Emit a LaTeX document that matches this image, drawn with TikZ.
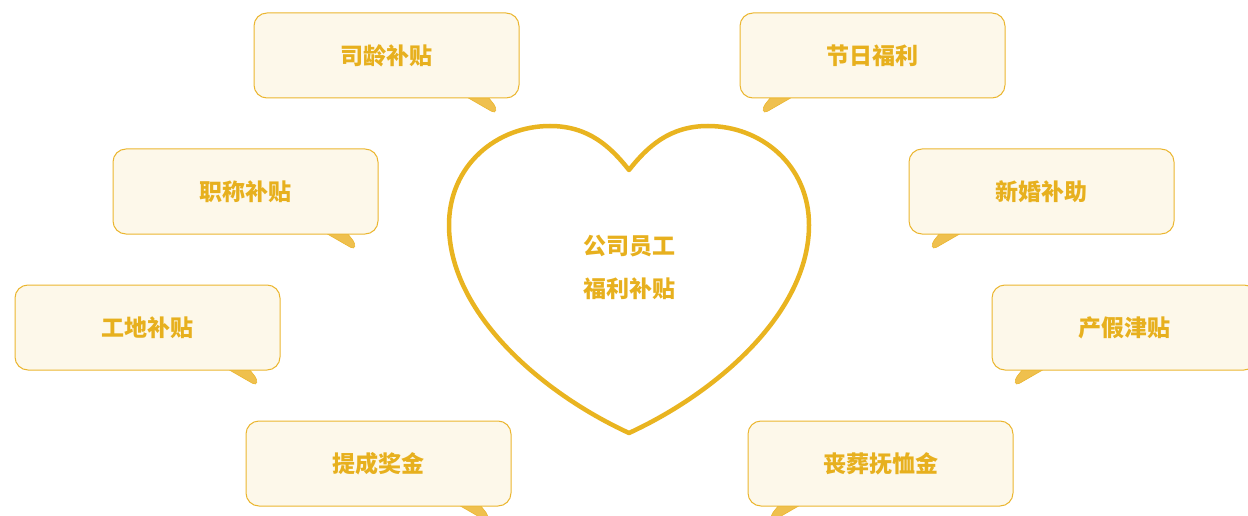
\documentclass[tikz,border=0pt]{standalone}
\usepackage{fontspec}
\newfontfamily\cjk{Noto Sans CJK SC}
\usetikzlibrary{calc,backgrounds}
\definecolor{gold}{HTML}{E9B420}
\definecolor{boxfill}{HTML}{FDF8EA}
\definecolor{boxline}{HTML}{EBB630}
\definecolor{tailfill}{HTML}{EFC04E}
\definecolor{txt}{HTML}{E7B01E}
\tikzset{
  bubble/.style={draw=boxline, line width=1pt, fill=boxfill, rounded corners=13pt,
    minimum width=265pt, minimum height=85pt, inner sep=0pt,
    font=\cjk\bfseries\fontsize{23}{27}\selectfont, text=txt},
  tail/.style={fill=tailfill, draw=boxline, line width=0.6pt},
  heartline/.style={draw=gold, line width=4.5pt, line join=round},
  hearttext/.style={font=\cjk\bfseries\fontsize{23}{27}\selectfont, text=txt, align=center}
}
\newcommand{\rtail}[1]{%
  \begin{pgfonlayer}{background}
  \path[tail] ($(#1.south east)+(-52,-1)$) -- ($(#1.south east)+(-28,12.8)$)
    .. controls ($(#1.south east)+(-23,15.5)$) and ($(#1.south east)+(-22.5,10)$) .. ($(#1.south east)+(-25.5,6)$)
    -- ($(#1.south east)+(-31,-1)$) -- cycle;
  \end{pgfonlayer}}
\newcommand{\ltail}[1]{%
  \begin{pgfonlayer}{background}
  \path[tail] ($(#1.south west)+(52,-1)$) -- ($(#1.south west)+(28,12.8)$)
    .. controls ($(#1.south west)+(23,15.5)$) and ($(#1.south west)+(22.5,10)$) .. ($(#1.south west)+(25.5,6)$)
    -- ($(#1.south west)+(31,-1)$) -- cycle;
  \end{pgfonlayer}}
\begin{document}
\begin{tikzpicture}[x=1pt,y=-1pt]
\useasboundingbox (0,0) rectangle (1248,516);
% heart
\path[heartline] (629,170) .. controls (610,146) and (588,126) .. (550,126)
  .. controls (497,126) and (449,165) .. (449,225)
  .. controls (449,312) and (540,392) .. (629,433)
  .. controls (718,392) and (809,312) .. (809,225)
  .. controls (809,165) and (761,126) .. (708,126)
  .. controls (670,126) and (648,146) .. (629,170) -- cycle;
\node[hearttext] (h1) at (629,246) {公司员工};
\node[hearttext] (h2) at (629,289) {福利补贴};
% bubbles
\node[bubble] (b1) at (386.5,55.5) {司龄补贴};
\node[bubble] (b2) at (872.5,55.5) {节日福利};
\node[bubble] (b3) at (245.5,191.5) {职称补贴};
\node[bubble] (b4) at (1041.5,191.5) {新婚补助};
\node[bubble] (b5) at (147.5,327.5) {工地补贴};
\node[bubble] (b6) at (1124.5,327.5) {产假津贴};
\node[bubble] (b7) at (378.5,463.5) {提成奖金};
\node[bubble] (b8) at (880.5,463.5) {丧葬抚恤金};
\rtail{b1}\ltail{b2}\rtail{b3}\ltail{b4}\rtail{b5}\ltail{b6}\rtail{b7}\ltail{b8}
\end{tikzpicture}
\end{document}
